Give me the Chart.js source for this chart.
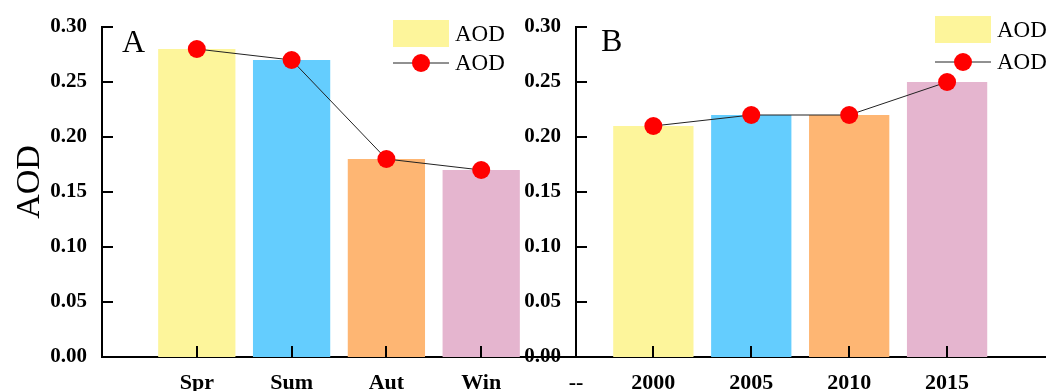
<!DOCTYPE html>
<html><head><meta charset="utf-8">
<script src="https://cdn.jsdelivr.net/npm/chart.js@4"></script>
<style>
html,body{margin:0;padding:0;background:#fff;width:1054px;height:391px;overflow:hidden}
#wrap{position:relative;width:1054px;height:391px}
canvas{position:absolute;top:0}
#c1{left:0}
#c2{left:390px}
</style></head><body>
<div id="wrap"><canvas id="c1" width="620" height="391"></canvas><canvas id="c2" width="664" height="391"></canvas></div>
<script>
// ---- data ----
const seasons = ['Spr', 'Sum', 'Aut', 'Win'];
const seasonAOD = [0.28, 0.27, 0.18, 0.17];
const years = ['2000', '2005', '2010', '2015'];
const yearAOD = [0.21, 0.22, 0.22, 0.25];
const leftTickLabels = [...seasons, '--'];
const rightTickLabels = [...years];
const seriesName = 'AOD';
const yAxisTitle = 'AOD';

// ---- styles ----
const barColors = ['#FDF59B', '#64CDFE', '#FEB673', '#E5B5CF'];
const markerColor = '#FF0000';
const SERIF = "'Liberation Serif', 'Times New Roman', serif";
Chart.defaults.font.family = SERIF;
Chart.defaults.color = '#000';

function tickLabelFn(labels) {
  return (v) => {
    if (!Number.isInteger(v)) return '';
    const i = v - 1;
    return (i >= 0 && i < labels.length) ? labels[i] : '';
  };
}

const decoPlugin = {
  id: 'deco',
  afterDraw(chart, args, o) {
    const ctx = chart.ctx;
    const ca = chart.chartArea;
    const xs = chart.scales.x, ys = chart.scales.y;
    ctx.save();
    ctx.strokeStyle = '#000';
    ctx.lineWidth = 2;
    // inward y ticks
    ys.ticks.forEach(t => {
      const y = Math.round(ys.getPixelForValue(t.value));
      ctx.beginPath(); ctx.moveTo(ca.left, y); ctx.lineTo(ca.left + 11, y); ctx.stroke();
    });
    // inward x ticks
    xs.ticks.forEach(t => {
      if (!t.label || t.label === '--') return;
      const x = Math.round(xs.getPixelForValue(t.value));
      ctx.beginPath(); ctx.moveTo(x, ca.bottom); ctx.lineTo(x, ca.bottom - 11); ctx.stroke();
    });
    // panel letter
    ctx.fillStyle = '#000';
    ctx.font = '32px ' + SERIF;
    ctx.textBaseline = 'alphabetic';
    ctx.textAlign = 'left';
    ctx.fillText(o.letter, o.letterX, o.letterY);
    // legend
    const L = o.legend;
    ctx.fillStyle = barColors[0];
    ctx.fillRect(L.x, L.y1 - 14, 56, 27);
    ctx.fillStyle = '#000';
    ctx.font = '23px ' + SERIF;
    ctx.textBaseline = 'middle';
    ctx.fillText(seriesName, L.x + 62, L.y1 + 1);
    ctx.strokeStyle = '#222'; ctx.lineWidth = 1;
    ctx.beginPath(); ctx.moveTo(L.x, L.y2); ctx.lineTo(L.x + 56, L.y2); ctx.stroke();
    ctx.fillStyle = markerColor;
    ctx.beginPath(); ctx.arc(L.x + 28, L.y2, 9, 0, Math.PI * 2); ctx.fill();
    ctx.fillStyle = '#000';
    ctx.fillText(seriesName, L.x + 62, L.y2 + 1);
    // y axis title
    if (o.yTitle) {
      ctx.save();
      ctx.translate(o.yTitle.x, o.yTitle.y);
      ctx.rotate(-Math.PI / 2);
      ctx.font = '34px ' + SERIF;
      ctx.textAlign = 'center';
      ctx.textBaseline = 'middle';
      ctx.fillText(yAxisTitle, 0, 0);
      ctx.restore();
    }
    ctx.restore();
  }
};

function makeChart(id, vals, tickLabels, xmin, xmax, yWidth, rightPad, barPct, deco) {
  return new Chart(document.getElementById(id), {
    data: {
      datasets: [
        {
          type: 'line',
          order: 0,
          data: vals.map((v, i) => ({ x: i + 1, y: v })),
          borderColor: '#222',
          borderWidth: 1,
          pointRadius: 9,
          pointHoverRadius: 9,
          pointBackgroundColor: markerColor,
          pointBorderWidth: 0,
          tension: 0,
          clip: false
        },
        {
          type: 'bar',
          order: 1,
          data: vals.map((v, i) => ({ x: i + 1, y: v })),
          backgroundColor: barColors,
          borderWidth: 0,
          categoryPercentage: 1,
          barPercentage: barPct
        }
      ]
    },
    options: {
      responsive: false,
      animation: false,
      devicePixelRatio: 1,
      layout: { padding: { top: 27, right: rightPad, left: 0, bottom: 0 } },
      plugins: { legend: { display: false }, tooltip: { enabled: false }, deco },
      scales: {
        x: {
          type: 'linear',
          min: xmin, max: xmax,
          offset: false,
          grid: { display: false, drawTicks: false, offset: false },
          border: { display: true, color: '#000', width: 2 },
          ticks: {
            stepSize: 1, includeBounds: false, autoSkip: false, maxRotation: 0,
            padding: 13,
            font: { size: 22, weight: 'bold' },
            callback: tickLabelFn(tickLabels)
          },
          afterFit: s => { s.height = 34; s.paddingLeft = 0; s.paddingRight = 0; }
        },
        y: {
          min: 0, max: 0.3,
          grid: { display: false, drawTicks: false },
          border: { display: true, color: '#000', width: 2 },
          ticks: {
            stepSize: 0.05, padding: 15,
            font: { size: 21, weight: 'bold' },
            callback: v => v.toFixed(2)
          },
          afterFit: s => { s.width = yWidth; s.paddingTop = 0; s.paddingBottom = 0; }
        }
      }
    },
    plugins: [decoPlugin]
  });
}

makeChart('c1', seasonAOD, leftTickLabels, 0, 5, 102, 44, 0.815, {
  letter: 'A', letterX: 122, letterY: 52,
  legend: { x: 393, y1: 34, y2: 63 },
  yTitle: { x: 30, y: 182 }
});
makeChart('c2', yearAOD, rightTickLabels, 0.21, 5, 186, 2, 0.82, {
  letter: 'B', letterX: 211, letterY: 51,
  legend: { x: 545, y1: 30, y2: 62 }
});
</script>
</body></html>
